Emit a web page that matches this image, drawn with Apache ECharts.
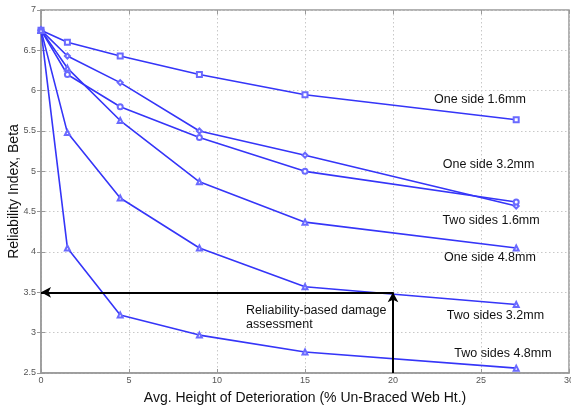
<!DOCTYPE html>
<html><head><meta charset="utf-8">
<script src="https://cdn.jsdelivr.net/npm/echarts@6/dist/echarts.min.js"></script>
<style>html,body{margin:0;padding:0;background:#fff}#c{width:571px;height:410px}</style>
</head><body><div id="c"></div>
<script>
const xValues = [0, 1.5, 4.5, 9, 15, 27];
const seriesNames = ['One side 1.6mm','One side 3.2mm','Two sides 1.6mm','One side 4.8mm','Two sides 3.2mm','Two sides 4.8mm'];
const oneSide16 = [6.75, 6.6, 6.43, 6.2, 5.95, 5.64];
const oneSide32 = [6.75, 6.43, 6.1, 5.5, 5.2, 4.57];
const twoSides16 = [6.75, 6.2, 5.8, 5.42, 5.0, 4.62];
const oneSide48 = [6.75, 6.28, 5.63, 4.87, 4.37, 4.05];
const twoSides32 = [6.75, 5.48, 4.67, 4.05, 3.57, 3.35];
const twoSides48 = [6.75, 4.05, 3.22, 2.97, 2.76, 2.56];
const markers = ['rect','diamond','circle','triangle','triangle','triangle'];
const labelPos = [[24.94,5.89],[25.43,5.08],[25.57,4.39],[25.51,3.93],[25.82,3.21],[26.25,2.745]];
const threshold = 3.5, thresholdX = 20;
const xTicks = {min:0,max:30,interval:5};
const yTicks = {min:2.5,max:7,interval:0.5};
const values = [oneSide16, oneSide32, twoSides16, oneSide48, twoSides32, twoSides48];

const blue = '#3535f8';
const series = values.map((vals, i) => ({
  name: seriesNames[i], type: 'line',
  data: xValues.map((x, j) => [x, vals[j]]),
  symbol: 'empty' + markers[i].charAt(0).toUpperCase() + markers[i].slice(1),
  symbolSize: 5,
  lineStyle: {color: blue, width: 1.6},
  itemStyle: {color: '#6a6aff', borderWidth: 1},
  emphasis: {disabled: true},
  animation: false,
  markPoint: {
    symbol: 'circle', symbolSize: 0,
    label: {show: true, position: 'inside', formatter: seriesNames[i], color: '#111',
      fontFamily: 'Liberation Sans, Arial', fontSize: 12.5},
    data: [{coord: labelPos[i]}]
  }
}));
series.push({
  type: 'line', data: [], animation: false,
  markLine: {
    silent: true, symbol: ['none','arrow'], symbolSize: [8, 10],
    label: {show: false},
    lineStyle: {color: '#000', width: 2, type: 'solid'},
    data: [
      [{coord: [thresholdX, threshold]}, {coord: [0, threshold]}],
      [{coord: [thresholdX, yTicks.min]}, {coord: [thresholdX, threshold]}]
    ]
  }
});

const tickLabel = {color: '#555', fontSize: 9, fontFamily: 'Liberation Sans, Arial'};
const chart = echarts.init(document.getElementById('c'));
chart.setOption({
  animation: false,
  grid: {left: 41, top: 10, right: 2, bottom: 37, containLabel: false, outerBoundsMode: 'none',
    show: true, borderColor: '#999', borderWidth: 1.5},
  xAxis: [{
    type: 'value', min: xTicks.min, max: xTicks.max, interval: xTicks.interval,
    name: 'Avg. Height of Deterioration (% Un-Braced Web Ht.)', nameLocation: 'middle', nameGap: 18,
    nameTextStyle: {color: '#111', fontSize: 14, fontFamily: 'Liberation Sans, Arial'},
    axisLine: {show: true, lineStyle: {color: '#999', width: 1.5}},
    axisTick: {show: true, inside: true, length: 4, lineStyle: {color: '#999'}},
    axisLabel: Object.assign({margin: 3}, tickLabel),
    splitLine: {show: true, lineStyle: {color: '#c8c8c8', type: [1.5, 2.5], width: 1}}
  }, {
    type: 'value', position: 'top', min: xTicks.min, max: xTicks.max, interval: xTicks.interval,
    axisLine: {show: false}, axisTick: {show: true, inside: true, length: 4, lineStyle: {color: '#999'}},
    axisLabel: {show: false}, splitLine: {show: false}
  }],
  yAxis: [{
    type: 'value', min: yTicks.min, max: yTicks.max, interval: yTicks.interval,
    name: 'Reliability Index, Beta', nameLocation: 'middle', nameGap: 20, nameMoveOverlap: false,
    nameTextStyle: {color: '#111', fontSize: 14, fontFamily: 'Liberation Sans, Arial'},
    axisLine: {show: true, lineStyle: {color: '#999', width: 1.5}},
    axisTick: {show: true, inside: true, length: 4, lineStyle: {color: '#999'}},
    axisLabel: Object.assign({margin: 5}, tickLabel),
    splitLine: {show: true, lineStyle: {color: '#c8c8c8', type: [1.5, 2.5], width: 1}}
  }, {
    type: 'value', position: 'right', min: yTicks.min, max: yTicks.max, interval: yTicks.interval,
    axisLine: {show: false}, axisTick: {show: true, inside: true, length: 4, lineStyle: {color: '#999'}},
    axisLabel: {show: false}, splitLine: {show: false}
  }],
  graphic: [{
    type: 'text', left: 246, top: 304,
    style: {text: 'Reliability-based damage\nassessment', fill: '#111', fontSize: 12.5,
      fontFamily: 'Liberation Sans, Arial', lineHeight: 14}
  }],
  series: series
});
</script></body></html>
